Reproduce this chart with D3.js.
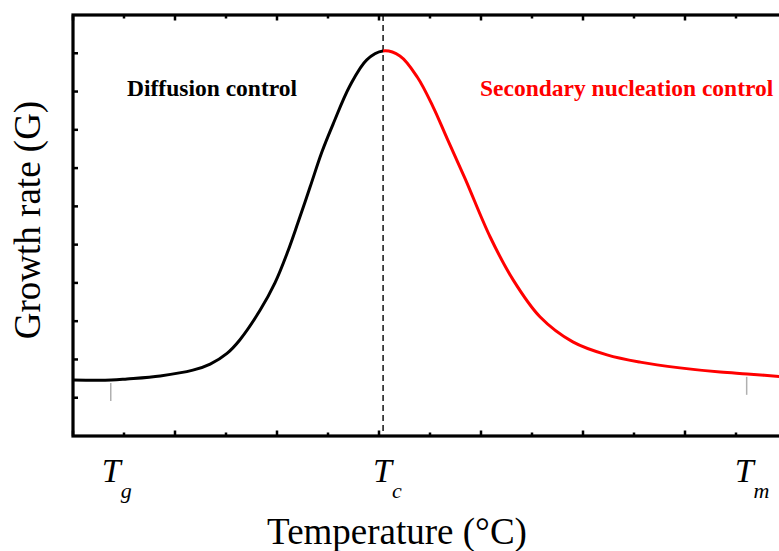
<!DOCTYPE html>
<html>
<head>
<meta charset="utf-8">
<script src="https://cdn.jsdelivr.net/npm/d3@7"></script>
<style>
  html, body { margin: 0; padding: 0; background: #fff; overflow: hidden; }
  svg { display: block; }
  text { font-family: "Liberation Serif", "Times New Roman", serif; }
</style>
</head>
<body>
<svg id="chart" width="779" height="551"></svg>
<script>
// Growth rate vs. temperature (arbitrary units), split at the crystallisation peak Tc
const diffusionTemp   = [0, 0.75, 1.06, 1.71, 2.35, 2.69, 3.02, 3.27, 3.67, 3.96, 4.20, 4.41, 4.65, 4.88, 5.10, 5.43, 5.76, 6.08];
const diffusionRate   = [1.46, 1.46, 1.49, 1.57, 1.72, 1.88, 2.16, 2.51, 3.29, 4.00, 4.78, 5.57, 6.51, 7.42, 8.15, 9.15, 9.83, 10.06];
const nucleationTemp  = [6.08, 6.41, 6.75, 7.06, 7.33, 7.69, 8.18, 8.63, 9.16, 9.80, 10.47, 11.12, 11.90, 12.69, 13.22, 14.0];
const nucleationRate  = [10.06, 9.93, 9.38, 8.60, 7.79, 6.72, 5.20, 4.08, 3.11, 2.46, 2.12, 1.93, 1.78, 1.67, 1.62, 1.54];

// Characteristic temperatures shown under the axis
const markerSymbols = ["g", "c", "m"];
const markerTemps   = [0.76, 6.08, 13.17];

const regimeLabels  = ["Diffusion control", "Secondary nucleation control"];
const regimeAnchors = [1.06, 7.98];   // temperature where each label starts
const regimeLevel   = 8.83;           // growth-rate level of the label baselines

const xTickValues = d3.range(0, 15);
const yTickValues = d3.range(1, 11);

const svg = d3.select("#chart");
const x = d3.scaleLinear().domain([0, 14]).range([73, 787]);
const y = d3.scaleLinear().domain([0, 11]).range([436, 15]);

// curve data (continuous, coloured by clipping at Tc)
const curve = diffusionTemp.map((t, i) => ({ t, g: diffusionRate[i] }))
  .concat(nucleationTemp.slice(1).map((t, i) => ({ t, g: nucleationRate[i + 1] })));
const Tc = markerTemps[1];

const defs = svg.append("defs");
defs.append("clipPath").attr("id", "clipLeft").append("rect")
  .attr("x", 0).attr("y", 0).attr("width", x(Tc)).attr("height", 551);
defs.append("clipPath").attr("id", "clipRight").append("rect")
  .attr("x", x(Tc)).attr("y", 0).attr("width", 900).attr("height", 551);

const line = d3.line().x(d => x(d.t)).y(d => y(d.g)).curve(d3.curveCatmullRom.alpha(0.5));

// dashed divider at Tc
svg.append("line")
  .attr("x1", x(Tc)).attr("x2", x(Tc))
  .attr("y1", y(11)).attr("y2", y(0))
  .attr("stroke", "#000").attr("stroke-width", 1.4)
  .attr("stroke-dasharray", "6,4");

svg.append("path").datum(curve)
  .attr("d", line).attr("fill", "none")
  .attr("stroke", "#000").attr("stroke-width", 3)
  .attr("clip-path", "url(#clipLeft)");
svg.append("path").datum(curve)
  .attr("d", line).attr("fill", "none")
  .attr("stroke", "#ff0000").attr("stroke-width", 3)
  .attr("clip-path", "url(#clipRight)");

// small grey drop marks under the curve at Tg and Tm
const rateAt = t => {
  const i = d3.bisector(d => d.t).left(curve, t);
  const a = curve[Math.max(0, i - 1)], b = curve[Math.min(curve.length - 1, i)];
  if (a.t === b.t) return a.g;
  return a.g + (b.g - a.g) * (t - a.t) / (b.t - a.t);
};
[markerTemps[0], markerTemps[2]].forEach(t => {
  const px = t === markerTemps[2] ? x(t) + 2 : x(t) - 1;
  svg.append("line")
    .attr("x1", px).attr("x2", px)
    .attr("y1", y(rateAt(t)) + 3).attr("y2", y(rateAt(t)) + 21)
    .attr("stroke", "#b0b0b0").attr("stroke-width", 1.5);
});

// ticks (inward), major every 2 units along x
const g = svg.append("g").attr("stroke", "#000");
xTickValues.forEach(v => {
  const len = v % 2 === 0 ? 5.5 : 3.5;
  g.append("line").attr("x1", x(v)).attr("x2", x(v))
    .attr("y1", y(0)).attr("y2", y(0) - len).attr("stroke-width", 2.5);
  g.append("line").attr("x1", x(v)).attr("x2", x(v))
    .attr("y1", y(11)).attr("y2", y(11) + len).attr("stroke-width", 2.5);
});
yTickValues.forEach(v => {
  g.append("line").attr("x1", x(0)).attr("x2", x(0) + 5)
    .attr("y1", y(v)).attr("y2", y(v)).attr("stroke-width", 2.5);
});

// frame
svg.append("rect")
  .attr("x", x(0)).attr("y", y(11))
  .attr("width", x(14) + 20 - x(0)).attr("height", y(0) - y(11))
  .attr("fill", "none").attr("stroke", "#000").attr("stroke-width", 3.2);

// regime labels
const regimeColors = ["#000", "#ff0000"];
regimeLabels.forEach((s, i) => {
  svg.append("text")
    .attr("x", x(regimeAnchors[i])).attr("y", y(regimeLevel) - 2)
    .attr("font-size", 23.5).attr("font-weight", "bold")
    .attr("fill", regimeColors[i])
    .text(s);
});

// characteristic temperature labels T_g, T_c, T_m
markerSymbols.forEach((s, i) => {
  const t = svg.append("text")
    .attr("x", x(markerTemps[i]) - 10).attr("y", 482)
    .attr("font-style", "italic").attr("fill", "#000");
  t.append("tspan").attr("font-size", 34).text("T");
  t.append("tspan").attr("font-size", 22).attr("dx", 0).attr("dy", 16).text(s);
});

// axis titles
svg.append("text")
  .attr("x", 397).attr("y", 544)
  .attr("text-anchor", "middle").attr("font-size", 37)
  .text("Temperature (\u00B0C)");
svg.append("text")
  .attr("transform", "translate(40,220) rotate(-90)")
  .attr("text-anchor", "middle").attr("font-size", 37)
  .text("Growth rate (G)");
</script>
</body>
</html>
